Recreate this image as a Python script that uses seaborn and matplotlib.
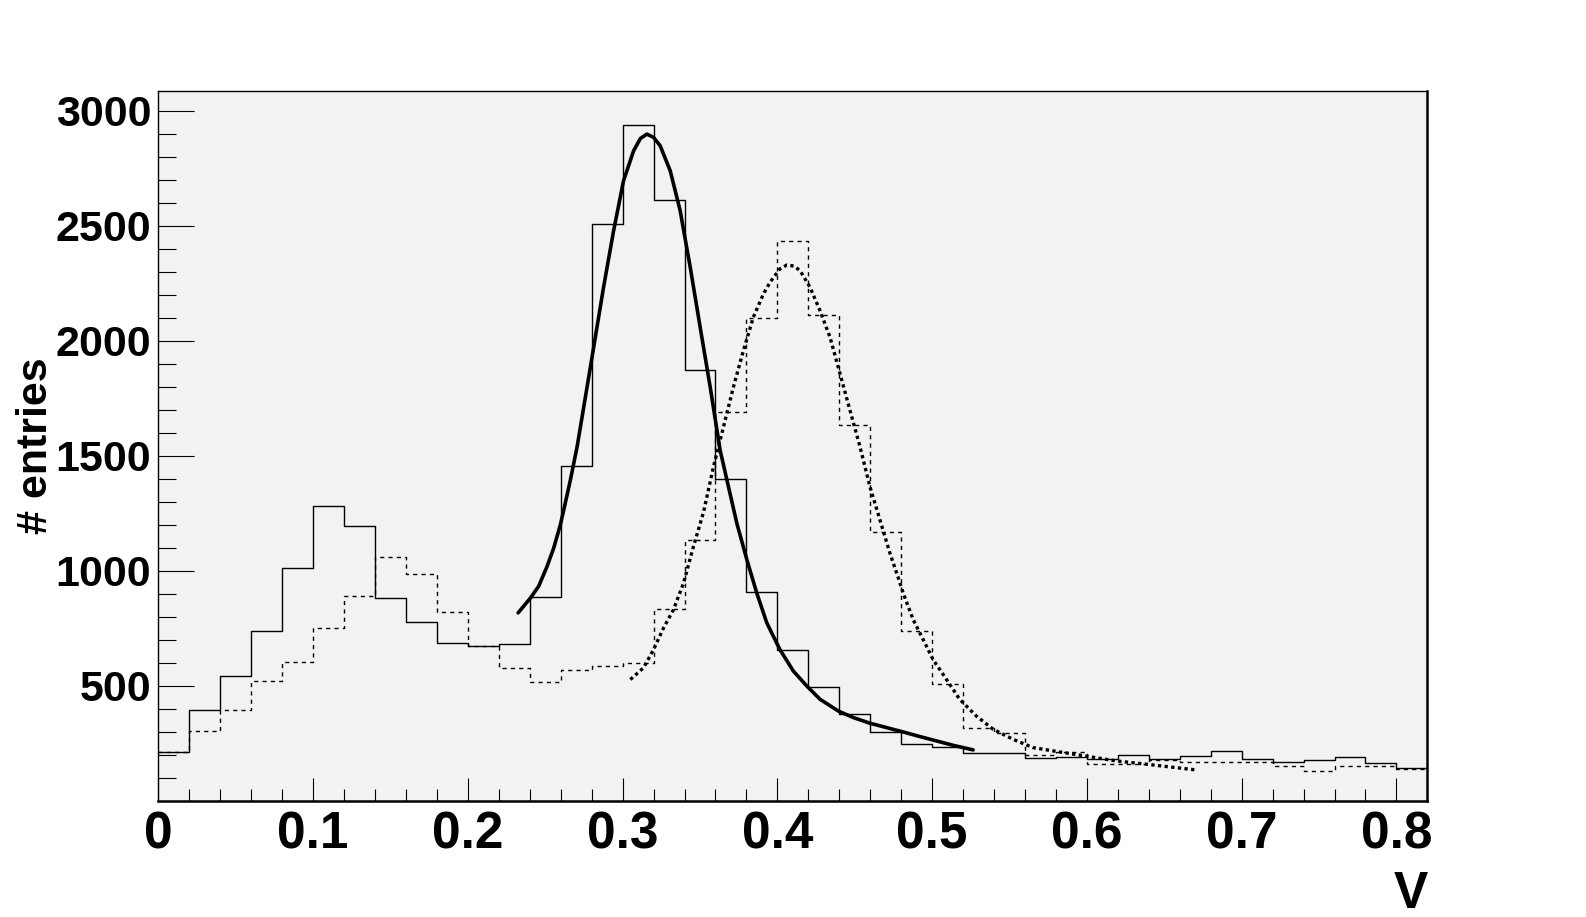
import pandas as pd
import matplotlib
matplotlib.use("Agg")
import matplotlib.pyplot as plt
import seaborn as sns
from matplotlib.ticker import MultipleLocator, FixedLocator

# Histogram binning (0 .. 0.82, width 0.02)
bin_edges = [round(0.02 * i, 2) for i in range(42)]

# Solid histogram counts
counts_solid = [212, 393, 544, 740, 1012, 1281, 1194, 883, 778, 687,
                671, 680, 886, 1455, 2508, 2938, 2613, 1871, 1398, 908,
                657, 496, 379, 301, 246, 232, 207, 207, 184, 190,
                180, 201, 182, 196, 218, 182, 170, 175, 192, 166, 144]

# Dashed histogram counts
counts_dashed = [210, 305, 393, 522, 605, 752, 891, 1060, 986, 821,
                 675, 578, 515, 570, 587, 601, 834, 1134, 1689, 2101,
                 2435, 2114, 1632, 1168, 736, 509, 318, 294, 201, 210,
                 159, 159, 176, 167, 167, 167, 153, 131, 153, 153, 136]

# Fit curve for solid histogram
fit_solid_x = [0.2325, 0.2405, 0.2458, 0.2512, 0.2555, 0.2598, 0.2630, 0.2663,
               0.2706, 0.2792, 0.2877, 0.2942, 0.3006, 0.3071, 0.3115, 0.3157,
               0.3200, 0.3243, 0.3308, 0.3372, 0.3437, 0.3501, 0.3566, 0.3630,
               0.3674, 0.3738, 0.3803, 0.3867, 0.3932, 0.4016, 0.4103, 0.4190,
               0.4276, 0.4394, 0.4490, 0.4598, 0.4706, 0.4813, 0.4921, 0.5028,
               0.5136, 0.5265]
fit_solid_y = [817, 882, 933, 1019, 1099, 1200, 1295, 1396,
               1539, 1886, 2233, 2479, 2696, 2826, 2880, 2899,
               2885, 2848, 2739, 2566, 2320, 2060, 1799, 1525,
               1395, 1207, 1048, 903, 773, 658, 564, 499,
               441, 390, 362, 337, 318, 299, 279, 260,
               241, 221]

# Fit curve for dashed histogram
fit_dashed_x = [0.3050, 0.3135, 0.3200, 0.3265, 0.3329, 0.3394, 0.3458, 0.3523,
                0.3587, 0.3652, 0.3716, 0.3781, 0.3845, 0.3910, 0.3953, 0.4017,
                0.4062, 0.4107, 0.4146, 0.4211, 0.4275, 0.4340, 0.4405, 0.4469,
                0.4534, 0.4598, 0.4663, 0.4727, 0.4781, 0.4813, 0.4877, 0.4942,
                0.5006, 0.5093, 0.5178, 0.5286, 0.5394, 0.5523, 0.5652, 0.5824,
                0.5996, 0.6190, 0.6383, 0.6534, 0.6706]
fit_dashed_y = [527, 578, 657, 752, 831, 947, 1106, 1255,
                1452, 1626, 1799, 1959, 2103, 2204, 2255, 2313,
                2330, 2325, 2306, 2233, 2132, 2016, 1857, 1698,
                1539, 1366, 1221, 1077, 970, 903, 788, 701,
                614, 527, 441, 368, 311, 267, 231, 212,
                194, 173, 159, 147, 134]

y_ticks = [500, 1000, 1500, 2000, 2500, 3000]
x_ticks = [0, 0.1, 0.2, 0.3, 0.4, 0.5, 0.6, 0.7, 0.8]
x_labels = ["0", "0.1", "0.2", "0.3", "0.4", "0.5", "0.6", "0.7", "0.8"]

centers = [(a + b) / 2 for a, b in zip(bin_edges[:-1], bin_edges[1:])]
df = pd.DataFrame({"v": centers, "solid": counts_solid, "dashed": counts_dashed})

sns.set_style("ticks")
plt.rcParams['font.family'] = ['Liberation Sans', 'DejaVu Sans']
plt.rcParams['font.weight'] = 'bold'
plt.rcParams['text.color'] = 'black'
plt.rcParams['axes.labelcolor'] = 'black'
plt.rcParams['xtick.color'] = 'black'
plt.rcParams['ytick.color'] = 'black'

fig = plt.figure(figsize=(15.86, 9.17), dpi=100)
ax = fig.add_axes([0.0998, 0.1268, 0.8002, 0.7736])
ax.set_facecolor("#f2f2f2")

# Histograms
sns.histplot(data=df, x="v", weights="solid", bins=bin_edges, element="step",
             fill=False, color="black", linewidth=1.0, ax=ax)
sns.histplot(data=df, x="v", weights="dashed", bins=bin_edges, element="step",
             fill=False, color="black", linewidth=1.0, linestyle=(0, (3, 3)), ax=ax)

# Fits
sns.lineplot(x=fit_solid_x, y=fit_solid_y, color="black", linewidth=2.6, ax=ax)
sns.lineplot(x=fit_dashed_x, y=fit_dashed_y, color="black", linewidth=2.4, ax=ax)
ax.lines[-1].set_linestyle((0, (1, 1)))

ax.set_xlim(0, 0.82)
ax.set_ylim(0, 3085)

ax.xaxis.set_major_locator(FixedLocator(x_ticks))
ax.xaxis.set_minor_locator(MultipleLocator(0.02))
ax.yaxis.set_major_locator(FixedLocator(y_ticks))
ax.yaxis.set_minor_locator(FixedLocator([v for v in range(100, 3001, 100) if v % 500]))
ax.set_xticklabels(x_labels)

ax.tick_params(axis="x", which="major", direction="in", length=16.5, width=0.8,
               labelsize=37, pad=7, top=False, colors="black")
ax.tick_params(axis="x", which="minor", direction="in", length=8.5, width=0.8, top=False)
ax.tick_params(axis="y", which="major", direction="in", length=26, width=0.8,
               labelsize=31, pad=5, right=False, colors="black")
ax.tick_params(axis="y", which="minor", direction="in", length=13, width=0.8, right=False)
for lab in ax.get_xticklabels() + ax.get_yticklabels():
    lab.set_fontweight("bold")

for side in ["left", "top"]:
    ax.spines[side].set_linewidth(1.0)
for side in ["bottom", "right"]:
    ax.spines[side].set_linewidth(1.8)
for sp in ax.spines.values():
    sp.set_color("black")
    sp.set_visible(True)

ax.set_ylabel("# entries", fontsize=31, fontweight="bold", va="center", color="black")
ax.yaxis.set_label_coords(-0.0964, 0.5)
ax.set_xlabel("V", fontsize=37, fontweight="bold", loc="right", color="black")
ax.xaxis.set_label_coords(1.0, -0.0977)

fig.savefig("out.png", dpi=100, facecolor="white")
